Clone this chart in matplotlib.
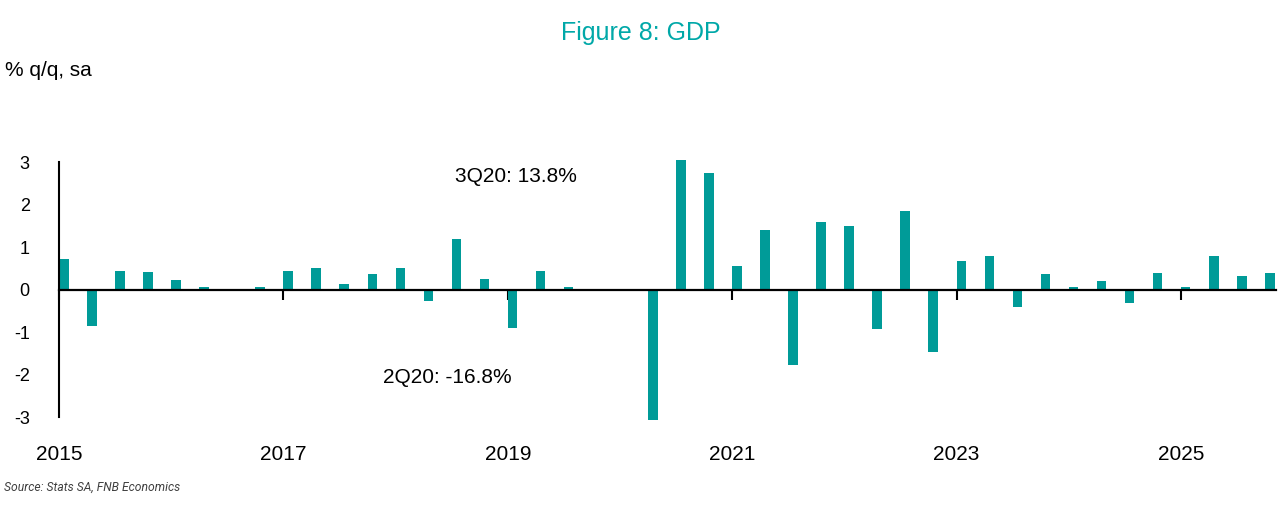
import matplotlib
matplotlib.use("Agg")
import matplotlib.pyplot as plt
import numpy as np
import pandas as pd

plt.rcParams['font.family'] = ['Liberation Sans', 'DejaVu Sans']

# ---- data ----
quarters = pd.period_range('2015Q1', '2025Q4', freq='Q')
gdp_qq = [0.71, -0.86, 0.44, 0.41,
          0.23, 0.06, -0.04, 0.06,
          0.44, 0.51, 0.13, 0.36,
          0.51, -0.27, 1.19, 0.25,
          -0.90, 0.44, 0.06, -0.04,
          -0.04, -16.8, 13.8, 2.74,
          0.55, 1.39, -1.78, 1.58,
          1.50, -0.94, 1.84, -1.47,
          0.67, 0.78, -0.42, 0.36,
          0.06, 0.21, -0.31, 0.38,
          0.05, 0.80, 0.31, 0.38]
year_ticks = [2015, 2017, 2019, 2021, 2023, 2025]
y_ticks = [-3, -2, -1, 0, 1, 2, 3]
annotations = [("3Q20: 13.8%", 2018.53, 2.67), ("2Q20: -16.8%", 2017.89, -2.08)]

title = "Figure 8: GDP"
unit_label = "% q/q, sa"
source = "Source: Stats SA, FNB Economics"

BAR = '#009B98'
TITLE_C = '#00A8A8'

x = np.array([q.year + (q.quarter - 1) / 4 for q in quarters])

W, H = 1281, 521
fig = plt.figure(figsize=(W / 100, H / 100), dpi=100)
ax_left, ax_right = 59 / W, 1276 / W
ax_top_px, ax_bot_px = 159.9, 419.6
ax = fig.add_axes([ax_left, (H - ax_bot_px) / H, ax_right - ax_left, (ax_bot_px - ax_top_px) / H])

ax.bar(x, gdp_qq, width=0.085, align='edge', color=BAR, linewidth=0, zorder=2)

ax.set_ylim(-3.06, 3.05)
ax.set_xlim(2015.0, 2025.8475)

for s in ['top', 'right']:
    ax.spines[s].set_visible(False)
ax.spines['bottom'].set_position(('data', 0))
ax.spines['bottom'].set_linewidth(1.6)
ax.spines['bottom'].set_zorder(3)
ax.spines['left'].set_linewidth(1.5)
ax.spines['left'].set_bounds(-3, 3)

ax.set_xticks(year_ticks)
ax.tick_params(axis='x', direction='out', length=7, width=1.5, labelbottom=False)
ax.set_yticks(y_ticks)
ax.set_yticklabels([str(v) for v in y_ticks])
ax.tick_params(axis='y', length=0, pad=21, labelsize=13)

sec = ax.secondary_xaxis('bottom')
sec.set_xticks(year_ticks)
sec.set_xticklabels([str(v) for v in year_ticks])
sec.tick_params(length=0, pad=18, labelsize=15)
sec.spines['bottom'].set_visible(False)

for txt, tx, ty in annotations:
    ax.text(tx, ty, txt, fontsize=15, va='center', ha='left', color='black')

fig.text(0.5, 1 - 33 / H, title, ha='center', va='center', fontsize=18, color=TITLE_C)
fig.text(5 / W, 1 - 71 / H, unit_label, ha='left', va='center', fontsize=15)
fig.text(4 / W, 1 - 487 / H, source, ha='left', va='center', fontsize=8.7,
         style='italic', color='#3f3f3f',
         family=['Roboto', 'DejaVu Sans'])

fig.savefig('out.png', dpi=100)
